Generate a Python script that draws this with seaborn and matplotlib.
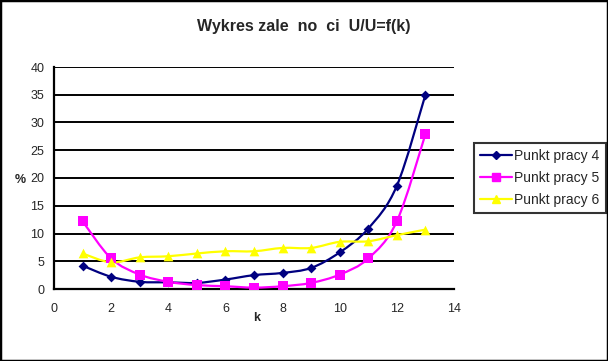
import numpy as np
import pandas as pd
import matplotlib
matplotlib.use("Agg")
import matplotlib.pyplot as plt
import seaborn as sns
from matplotlib.path import Path
from matplotlib.patches import PathPatch, Rectangle

k = [1, 2, 3, 4, 5, 6, 7, 8, 9, 10, 11, 12, 13]
punkt4 = [4.2, 2.2, 1.3, 1.2, 1.1, 1.7, 2.5, 2.9, 3.8, 6.6, 10.9, 18.6, 35.0]
punkt5 = [12.2, 5.5, 2.6, 1.3, 0.7, 0.5, 0.25, 0.5, 1.1, 2.6, 5.5, 12.2, 27.9]
punkt6 = [6.4, 4.8, 5.7, 5.9, 6.4, 6.8, 6.8, 7.4, 7.4, 8.5, 8.6, 9.7, 10.7]
series_names = ["Punkt pracy 4", "Punkt pracy 5", "Punkt pracy 6"]
title = "Wykres zale  no  ci  U/U=f(k)"
xticks = [0, 2, 4, 6, 8, 10, 12, 14]
yticks = [0, 5, 10, 15, 20, 25, 30, 35, 40]

colors = ["#000080", "#FF00FF", "#FFFF00"]
markers = ["D", "s", "^"]
msizes = [5, 7, 7]

df = pd.concat([
    pd.DataFrame({"k": k, "v": vals, "s": name})
    for name, vals in zip(series_names, [punkt4, punkt5, punkt6])
])

sns.set_style("white")
plt.rcParams["font.family"] = ["Liberation Sans", "DejaVu Sans"]

fig = plt.figure(figsize=(6.08, 3.61), dpi=100)
ax = fig.add_axes([54 / 608, 1 - 289 / 361, (454 - 54) / 608, (289 - 67) / 361])

def smooth_path(xs, ys):
    pts = np.column_stack([xs, ys]).astype(float)
    n = len(pts)
    verts = [pts[0]]
    codes = [Path.MOVETO]
    for i in range(n - 1):
        p0 = pts[i - 1] if i > 0 else pts[i]
        p1 = pts[i]
        p2 = pts[i + 1]
        p3 = pts[i + 2] if i + 2 < n else pts[i + 1]
        c1 = p1 + (p2 - p0) / 6.0
        c2 = p2 - (p3 - p1) / 6.0
        verts += [c1, c2, p2]
        codes += [Path.CURVE4] * 3
    return Path(verts, codes)

for name, c, m, ms in zip(series_names, colors, markers, msizes):
    sub = df[df["s"] == name]
    ax.add_patch(PathPatch(smooth_path(sub["k"].values, sub["v"].values),
                           facecolor="none", edgecolor=c, lw=1.6, zorder=3))
    sns.scatterplot(data=sub, x="k", y="v", ax=ax, color=c, marker=m,
                    s=ms ** 2, edgecolor=c, linewidth=0, zorder=4, legend=False)

ax.set_xlim(0, 14)
ax.set_ylim(0, 40)
ax.set_xticks(xticks)
ax.set_yticks(yticks)
ax.tick_params(axis="both", direction="out", length=4, width=1.2, color="black",
               labelsize=9, pad=3)
ax.tick_params(axis="x", pad=6)
for y in yticks[1:]:
    ax.axhline(y, color="black", lw=1.4, zorder=1)
for sp in ["top", "right"]:
    ax.spines[sp].set_visible(False)
for sp in ["left", "bottom"]:
    ax.spines[sp].set_color("black")
    ax.spines[sp].set_linewidth(1.6)
ax.set_xlabel("")
ax.set_ylabel("")
fig.text(257 / 608, 1 - 318 / 361, "k", fontsize=9, fontweight="bold",
         ha="center", va="center")
fig.text(20 / 608, 1 - 180 / 361, "%", fontsize=9, fontweight="bold",
         ha="center", va="center")
fig.text(304 / 608, 1 - 27 / 361, title, fontsize=11.5, fontweight="bold",
         ha="center", va="center")

handles = [plt.Line2D([], [], color=c, marker=m, markersize=ms - 1, lw=1.6)
           for c, m, ms in zip(colors, markers, msizes)]
leg = fig.legend(handles, series_names, loc="upper left",
                 bbox_to_anchor=(474 / 608, 1 - 143 / 361), fontsize=10,
                 frameon=True, fancybox=False, edgecolor="black",
                 handlelength=2.3, borderpad=0.45, labelspacing=0.55,
                 handletextpad=0.15, borderaxespad=0)
leg.get_frame().set_linewidth(1.5)

fig.patches.append(Rectangle((0, 0), 1, 1, transform=fig.transFigure,
                             fill=False, edgecolor="black", lw=2.5))

fig.savefig("out.png", dpi=100)
